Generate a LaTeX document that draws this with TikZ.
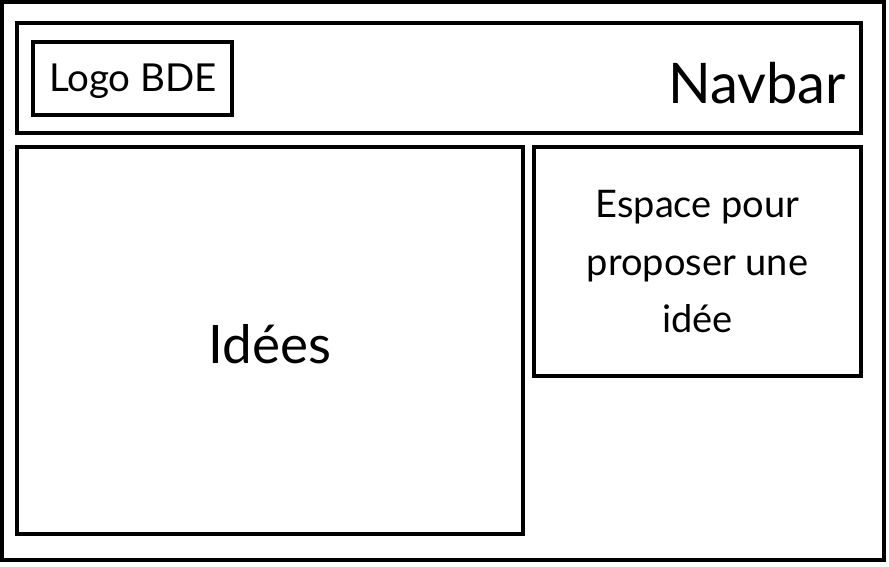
\documentclass[tikz,border=0pt]{standalone}
\usepackage{fontspec}
\setmainfont{Lato}
\begin{document}
\begin{tikzpicture}[x=1pt,y=-1pt,
  frame/.style={draw=black,line width=4pt,inner sep=0pt,outer sep=0pt},
  lbl/.style={inner sep=0pt,outer sep=0pt,text=black}]
\useasboundingbox (0,0) rectangle (889,567);
\fill[white] (0,0) rectangle (889,567);
% boxes
\draw[frame] (2,2.5) rectangle (884,559.5);
\node[frame,minimum width=844pt,minimum height=110pt] (navbar) at (439,78) {};
\node[frame,minimum width=199pt,minimum height=73pt] (logo) at (132.5,78.5) {};
\node[frame,minimum width=506pt,minimum height=387pt] (idees) at (270,340.5) {};
\node[frame,minimum width=327pt,minimum height=229pt] (espace) at (697.5,261.5) {};
% labels
\node[lbl,anchor=base] (logot) at (133,92) {\fontsize{38.5}{44}\selectfont Logo BDE};
\node[lbl,anchor=base east] (navt) at (846,104) {\fontsize{56}{64}\selectfont Navbar};
\node[lbl,anchor=base] (ideest) at (270,363) {\fontsize{53}{60}\selectfont Idées};
\node[lbl,align=center,font=\fontsize{38}{57.5}\selectfont] (espacet) at (697.5,262) {Espace pour\\proposer une\\idée};
\end{tikzpicture}
\end{document}
